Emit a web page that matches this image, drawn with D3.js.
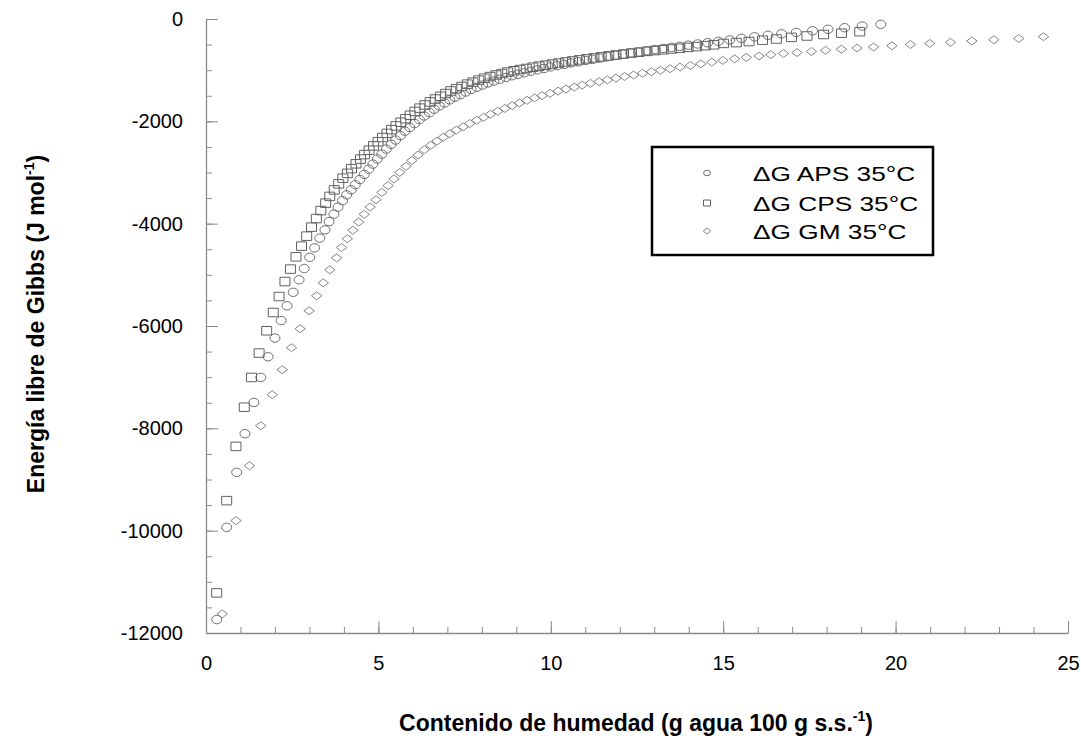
<!DOCTYPE html>
<html>
<head>
<meta charset="utf-8">
<script src="https://cdn.jsdelivr.net/npm/d3@7"></script>
<style>
  body { margin: 0; background: #fff; }
  text { font-family: "Liberation Sans", Arial, sans-serif; }
</style>
</head>
<body>
<script>
// ΔG APS 35°C
const apsX = [0.31, 0.60, 0.89, 1.13, 1.39, 1.59, 1.80, 2.00, 2.18, 2.35, 2.53, 2.70, 2.85, 3.01, 3.15, 3.30, 3.45, 3.57, 3.71, 3.83,
  3.96, 4.08, 4.21, 4.33, 4.46, 4.59, 4.72, 4.84, 4.97, 5.10, 5.23, 5.37, 5.50, 5.64, 5.77, 5.91, 6.05, 6.19, 6.33, 6.48,
  6.62, 6.77, 6.92, 7.07, 7.22, 7.38, 7.53, 7.69, 7.86, 8.02, 8.18, 8.35, 8.52, 8.70, 8.87, 9.05, 9.23, 9.42, 9.61, 9.80,
  9.99, 10.19, 10.39, 10.59, 10.80, 11.01, 11.22, 11.43, 11.65, 11.87, 12.10, 12.32, 12.55, 12.78, 13.02, 13.26, 13.50, 13.74, 13.99, 14.26,
  14.55, 14.86, 15.19, 15.53, 15.91, 16.30, 16.69, 17.12, 17.59, 18.04, 18.52, 19.03, 19.57];
const apsY = [-11738, -9935, -8861, -8105, -7494, -7005, -6601, -6236, -5894, -5605, -5341, -5097, -4877, -4658, -4472, -4283, -4121, -3959, -3814, -3677,
  -3549, -3437, -3338, -3238, -3137, -3037, -2935, -2836, -2736, -2640, -2543, -2449, -2365, -2279, -2193, -2119, -2043, -1965, -1896, -1830,
  -1762, -1699, -1641, -1580, -1529, -1478, -1426, -1377, -1334, -1291, -1250, -1213, -1178, -1143, -1109, -1080, -1051, -1021, -994, -967,
  -937, -912, -887, -859, -836, -810, -787, -762, -736, -711, -687, -664, -643, -619, -598, -576, -555, -533, -512, -488,
  -464, -437, -410, -377, -348, -318, -291, -262, -230, -201, -170, -137, -104];

// ΔG CPS 35°C
const cpsX = [0.31, 0.60, 0.87, 1.11, 1.32, 1.54, 1.76, 1.95, 2.12, 2.29, 2.45, 2.61, 2.77, 2.92, 3.06, 3.20, 3.33, 3.47, 3.59, 3.72,
  3.85, 3.97, 4.10, 4.22, 4.35, 4.48, 4.60, 4.73, 4.86, 4.99, 5.12, 5.25, 5.38, 5.51, 5.65, 5.79, 5.92, 6.06, 6.20, 6.35,
  6.50, 6.65, 6.80, 6.95, 7.10, 7.26, 7.42, 7.58, 7.74, 7.91, 8.07, 8.24, 8.41, 8.58, 8.75, 8.93, 9.11, 9.29, 9.48, 9.66,
  9.85, 10.04, 10.23, 10.43, 10.63, 10.83, 11.04, 11.25, 11.46, 11.68, 11.89, 12.11, 12.34, 12.56, 12.79, 13.02, 13.26, 13.50, 13.74, 13.98,
  14.23, 14.48, 14.73, 15.01, 15.38, 15.75, 16.14, 16.54, 16.98, 17.43, 17.91, 18.43, 18.96];
const cpsY = [-11216, -9413, -8353, -7587, -7005, -6529, -6093, -5736, -5424, -5131, -4888, -4648, -4439, -4244, -4068, -3900, -3744, -3599, -3467, -3340,
  -3222, -3111, -3017, -2924, -2830, -2738, -2650, -2564, -2480, -2398, -2316, -2236, -2162, -2090, -2017, -1949, -1881, -1807, -1742, -1680,
  -1621, -1564, -1510, -1457, -1406, -1361, -1318, -1273, -1234, -1195, -1158, -1125, -1094, -1066, -1037, -1012, -988, -967, -943, -922,
  -902, -881, -861, -840, -820, -799, -779, -760, -740, -721, -703, -685, -666, -650, -633, -617, -602, -586, -570, -555,
  -539, -521, -504, -477, -461, -441, -414, -391, -359, -332, -303, -277, -248];

// ΔG GM 35°C
const gmX = [0.47, 0.87, 1.26, 1.59, 1.92, 2.21, 2.48, 2.73, 2.99, 3.21, 3.40, 3.59, 3.79, 3.93, 4.10, 4.26, 4.43, 4.59, 4.76, 4.93,
  5.10, 5.28, 5.45, 5.62, 5.80, 5.97, 6.15, 6.33, 6.52, 6.70, 6.88, 7.07, 7.26, 7.46, 7.65, 7.85, 8.05, 8.25, 8.46, 8.67,
  8.88, 9.09, 9.31, 9.53, 9.75, 9.98, 10.21, 10.44, 10.68, 10.91, 11.15, 11.40, 11.64, 11.89, 12.14, 12.40, 12.66, 12.92, 13.18, 13.46,
  13.75, 14.05, 14.35, 14.67, 14.99, 15.33, 15.67, 16.04, 16.38, 16.75, 17.14, 17.56, 17.97, 18.43, 18.88, 19.36, 19.89, 20.43, 20.99, 21.59,
  22.21, 22.85, 23.57, 24.29];
const gmY = [-11626, -9804, -8730, -7949, -7343, -6855, -6425, -6054, -5703, -5410, -5156, -4902, -4668, -4466, -4295, -4129, -3968, -3818, -3674, -3533,
  -3390, -3256, -3125, -2998, -2879, -2765, -2658, -2556, -2469, -2387, -2312, -2242, -2172, -2107, -2043, -1980, -1922, -1861, -1803, -1748,
  -1693, -1642, -1590, -1543, -1498, -1453, -1410, -1369, -1330, -1293, -1258, -1225, -1191, -1156, -1123, -1094, -1060, -1031, -1002, -971,
  -939, -908, -877, -844, -809, -779, -750, -723, -697, -674, -656, -635, -613, -590, -568, -547, -523, -498, -478, -457,
  -430, -406, -381, -346];

const xMajor = [0, 5, 10, 15, 20, 25];
const xMinor = d3.range(0, 26, 1);
const yMajor = [0, -2000, -4000, -6000, -8000, -10000, -12000];
const yMinor = d3.range(-12000, 1, 500);
const legendLabels = ['\u0394G APS 35\u00B0C', '\u0394G CPS 35\u00B0C', '\u0394G GM 35\u00B0C'];

const width = 1081, height = 739;
const margin = {top: 19, right: 13, bottom: 106, left: 206};
const axisColor = '#8a8a8a';
const plainNum = d => String(d);

const svg = d3.select('body').append('svg')
    .attr('width', width)
    .attr('height', height);

const x = d3.scaleLinear().domain([0, 25]).range([margin.left, width - margin.right]);
const y = d3.scaleLinear().domain([-12000, 0]).range([height - margin.bottom, margin.top]);

// minor ticks first, no labels
svg.append('g')
    .attr('transform', `translate(0, ${y(-12000)})`)
    .call(d3.axisBottom(x).tickValues(xMinor).tickSize(-6).tickSizeOuter(0).tickFormat(''))
    .call(g => g.select('.domain').remove())
    .selectAll('line').attr('stroke', axisColor);

svg.append('g')
    .attr('transform', `translate(${x(0)}, 0)`)
    .call(d3.axisLeft(y).tickValues(yMinor).tickSize(-6).tickSizeOuter(0).tickFormat(''))
    .call(g => g.select('.domain').remove())
    .selectAll('line').attr('stroke', axisColor);

const xAxis = svg.append('g')
    .attr('transform', `translate(0, ${y(-12000)})`)
    .call(d3.axisBottom(x).tickValues(xMajor).tickSize(-12).tickSizeOuter(0).tickPadding(23).tickFormat(plainNum));
xAxis.select('.domain').attr('stroke', axisColor).attr('stroke-width', 1.3);
xAxis.selectAll('line').attr('stroke', axisColor);
xAxis.selectAll('text')
    .style('font-family', '"Liberation Sans", Arial, sans-serif')
    .style('font-size', '20px')
    .attr('fill', '#000');

const yAxis = svg.append('g')
    .attr('transform', `translate(${x(0)}, 0)`)
    .call(d3.axisLeft(y).tickValues(yMajor).tickSize(-12).tickSizeOuter(0).tickPadding(23).tickFormat(plainNum));
yAxis.select('.domain').attr('stroke', axisColor).attr('stroke-width', 1.3);
yAxis.selectAll('line').attr('stroke', axisColor);
yAxis.selectAll('text')
    .style('font-family', '"Liberation Sans", Arial, sans-serif')
    .style('font-size', '20px')
    .attr('fill', '#000');

// markers: figure is slightly stretched sideways, so shapes are a bit wider than tall
function circlePath(cx, cy, rx, ry) {
    return `M${cx - rx},${cy}a${rx},${ry} 0 1,0 ${2 * rx},0a${rx},${ry} 0 1,0 ${-2 * rx},0Z`;
}
function squarePath(cx, cy, w, h) {
    return `M${cx - w / 2},${cy - h / 2}h${w}v${h}h${-w}Z`;
}
function diamondPath(cx, cy, w, h) {
    return `M${cx - w / 2},${cy}L${cx},${cy - h / 2}L${cx + w / 2},${cy}L${cx},${cy + h / 2}Z`;
}

const series = [
    {xs: apsX, ys: apsY, shape: (a, b) => circlePath(a, b, 5, 4.2), color: '#707070'},
    {xs: cpsX, ys: cpsY, shape: (a, b) => squarePath(a, b, 10, 8.5), color: '#606060'},
    {xs: gmX, ys: gmY, shape: (a, b) => diamondPath(a, b, 10.5, 8), color: '#858585'}
];

series.forEach(s => {
    const pts = s.xs.map((v, i) => ({x: v, y: s.ys[i]}));
    svg.append('g')
        .selectAll('path')
        .data(pts)
        .enter().append('path')
        .attr('d', d => s.shape(x(d.x), y(d.y)))
        .attr('fill', 'none')
        .attr('stroke', s.color)
        .attr('stroke-width', 1);
});

// legend
const legend = svg.append('g');
legend.append('rect')
    .attr('x', 652)
    .attr('y', 147)
    .attr('width', 281)
    .attr('height', 108)
    .attr('fill', '#fff')
    .attr('stroke', '#000')
    .attr('stroke-width', 2.5);

const legendShapes = [
    (a, b) => circlePath(a, b, 3.4, 2.8),
    (a, b) => squarePath(a, b, 7, 6),
    (a, b) => diamondPath(a, b, 7.5, 6)
];
const rowY = [173, 203, 231];

legendLabels.forEach((label, i) => {
    legend.append('path')
        .attr('d', legendShapes[i](707, rowY[i]))
        .attr('fill', 'none')
        .attr('stroke', series[i].color)
        .attr('stroke-width', 1);
    legend.append('text')
        .attr('transform', `translate(753, ${rowY[i]}) scale(1.25, 1)`)
        .attr('dy', '0.36em')
        .attr('font-size', '21px')
        .attr('fill', '#000')
        .text(label);
});

// axis titles
const xTitle = svg.append('text')
    .attr('x', 636)
    .attr('y', 731)
    .attr('text-anchor', 'middle')
    .attr('font-size', '23px')
    .attr('font-weight', 'bold');
xTitle.append('tspan').text('Contenido de humedad (g agua 100 g s.s.');
xTitle.append('tspan').attr('font-size', '14px').attr('dy', -10).text('-1');
xTitle.append('tspan').attr('dy', 10).text(')');

const yTitle = svg.append('text')
    .attr('transform', 'translate(44, 324) rotate(-90)')
    .attr('text-anchor', 'middle')
    .attr('font-size', '23px')
    .attr('font-weight', 'bold');
yTitle.append('tspan').text('Energía libre de Gibbs (J mol');
yTitle.append('tspan').attr('font-size', '14px').attr('dy', -10).text('-1');
yTitle.append('tspan').attr('dy', 10).text(')');
</script>
</body>
</html>
